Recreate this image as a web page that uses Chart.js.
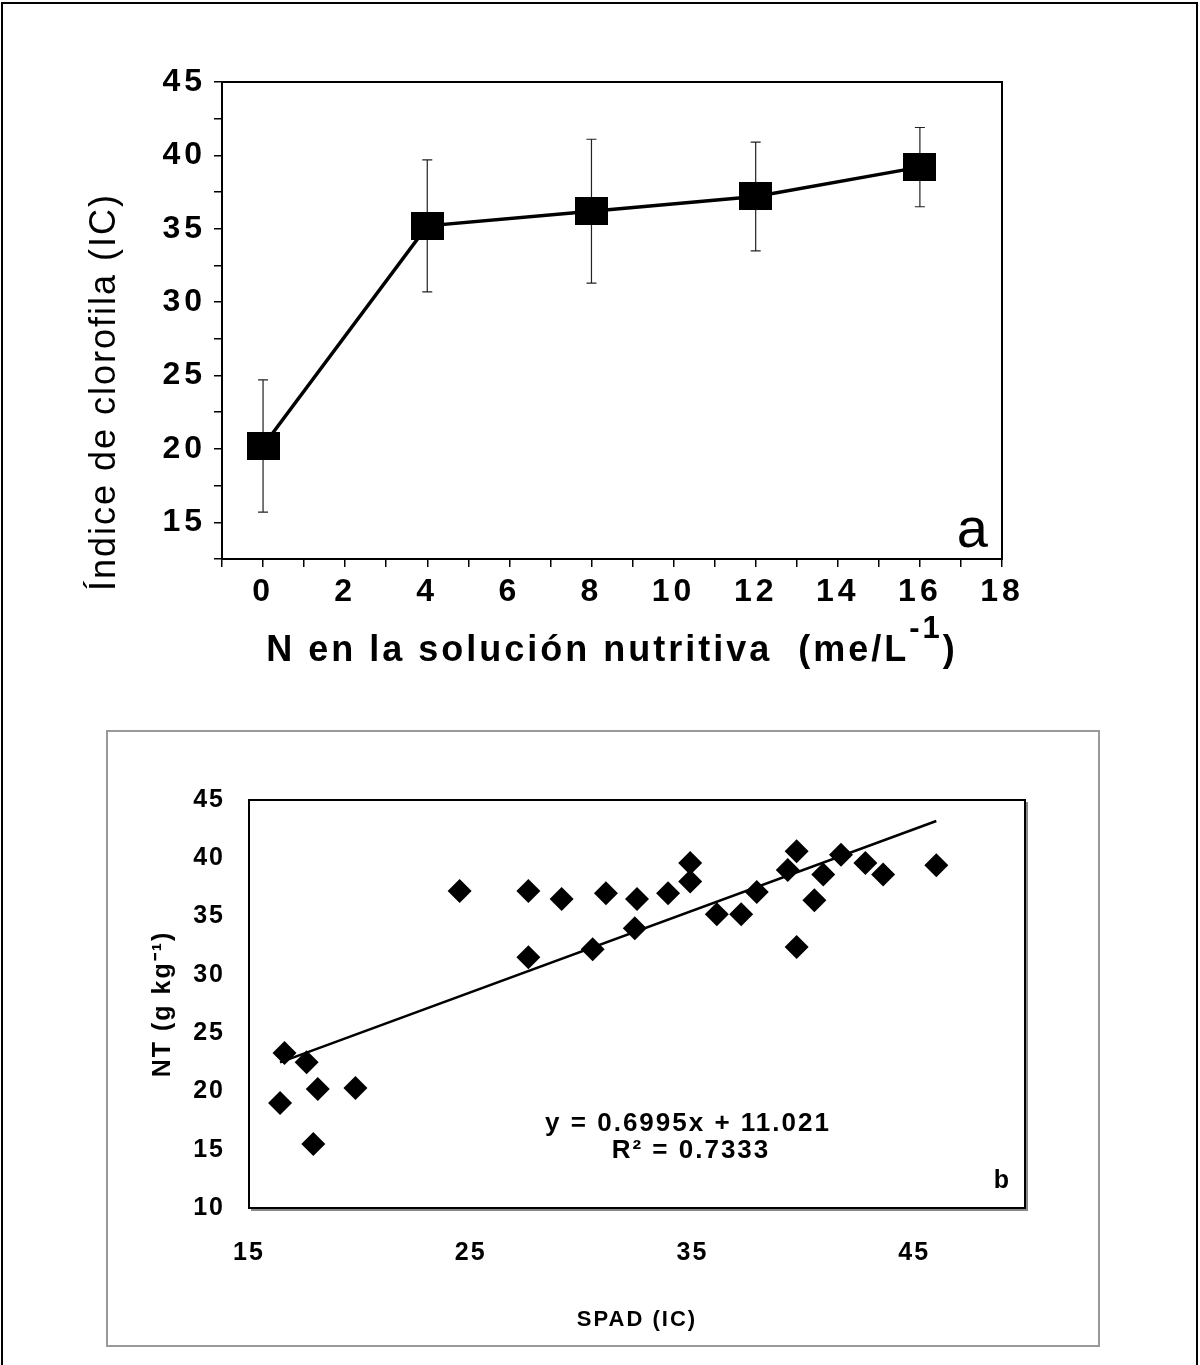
<!DOCTYPE html>
<html>
<head>
<meta charset="utf-8">
<script src="https://cdn.jsdelivr.net/npm/chart.js@4.4.1/dist/chart.umd.min.js"></script>
<style>
  body { margin: 0; background: #fff; width: 1200px; height: 1365px; position: relative; overflow: hidden; }
  #frame { position: absolute; left: 1px; top: 2px; width: 1197px; height: 1400px; border: 2px solid #000; border-bottom: none; box-sizing: border-box; }
  #boxB { position: absolute; left: 106px; top: 730px; width: 994px; height: 617px; border: 2px solid #999; box-sizing: border-box; }
  #chartA { position: absolute; left: 0; top: 0; }
  #chartB { position: absolute; left: 0; top: 700px; }
</style>
</head>
<body>
<div id="frame"></div>
<div id="boxB"></div>
<canvas id="chartA" width="1200" height="700"></canvas>
<canvas id="chartB" width="1200" height="665"></canvas>
<script>
// Panel a: chlorophyll index vs N in nutrient solution
const nLevels = [0, 4, 8, 12, 16];
const icMeans = [20.2, 35.2, 36.2, 37.2, 39.2];
const icErrors = [4.5, 4.5, 4.9, 3.7, 2.7];
const xTicksA = [0, 2, 4, 6, 8, 10, 12, 14, 16, 18];
const yTicksA = [15, 20, 25, 30, 35, 40, 45];

// Panel b: SPAD vs total N
const spadValues = [16.4, 16.6, 17.6, 17.9, 18.1, 19.8, 24.5, 27.6, 27.6, 29.1, 30.5, 31.1, 32.4, 32.5, 33.9,
    34.9, 34.9, 36.1, 37.2, 37.9, 39.3, 39.7, 39.7, 40.5, 40.9, 41.7, 42.8, 43.6, 46.0];
const ntValues = [19.0, 23.3, 22.5, 15.5, 20.2, 20.3, 37.2, 37.2, 31.5, 36.5, 32.2, 37.0, 34.0, 36.5, 37.0,
    39.6, 38.0, 35.2, 35.2, 37.1, 39.0, 40.6, 32.4, 36.4, 38.6, 40.3, 39.6, 38.6, 39.4];
const trendSlope = 0.6995;
const trendIntercept = 11.021;
const xTicksB = [15, 25, 35, 45];

const FONT = "'Liberation Sans', Arial, sans-serif";
Chart.defaults.font.family = FONT;
Chart.defaults.color = '#000';

// square marker, a bit wider than tall like in the original
const squareMarker = document.createElement('canvas');
squareMarker.width = 33;
squareMarker.height = 28;
squareMarker.getContext('2d').fillRect(0, 0, 33, 28);

// the original lettering is wide, so space the letters a little
const spacing = (px) => ({
    id: 'spacing',
    beforeDraw: (chart) => { chart.ctx.letterSpacing = px + 'px'; }
});

// box around the plot area
const framePlugin = (shadow) => ({
    id: 'frame',
    afterDraw: (chart) => {
        const ctx = chart.ctx;
        const a = chart.chartArea;
        ctx.save();
        if (shadow) {
            ctx.strokeStyle = '#888';
            ctx.lineWidth = 2;
            ctx.beginPath();
            ctx.moveTo(a.left + 2, a.bottom + 2);
            ctx.lineTo(a.right + 2, a.bottom + 2);
            ctx.lineTo(a.right + 2, a.top + 2);
            ctx.stroke();
        }
        ctx.strokeStyle = '#000';
        ctx.lineWidth = 2;
        ctx.strokeRect(a.left, a.top, a.right - a.left, a.bottom - a.top);
        ctx.restore();
    }
});

const errorBars = {
    id: 'errorBars',
    beforeDatasetsDraw: (chart) => {
        const ctx = chart.ctx;
        const x = chart.scales.x;
        const y = chart.scales.y;
        ctx.save();
        ctx.strokeStyle = '#222';
        ctx.lineWidth = 1.2;
        nLevels.forEach((n, i) => {
            const px = x.getPixelForValue(n);
            const top = y.getPixelForValue(icMeans[i] + icErrors[i]);
            const bot = y.getPixelForValue(icMeans[i] - icErrors[i]);
            ctx.beginPath();
            ctx.moveTo(px, top);
            ctx.lineTo(px, bot);
            ctx.moveTo(px - 5, top);
            ctx.lineTo(px + 5, top);
            ctx.moveTo(px - 5, bot);
            ctx.lineTo(px + 5, bot);
            ctx.stroke();
        });
        ctx.restore();
    }
};

const panelLabel = (text, font, xPos, yPos, align, ls) => ({
    id: 'panelLabel',
    afterDraw: (chart) => {
        const ctx = chart.ctx;
        ctx.save();
        ctx.font = font;
        ctx.letterSpacing = (ls || 0) + 'px';
        ctx.fillStyle = '#000';
        ctx.textAlign = align;
        ctx.textBaseline = 'alphabetic';
        ctx.fillText(text, chart.chartArea[xPos[0]] + xPos[1], chart.chartArea[yPos[0]] + yPos[1]);
        ctx.restore();
    }
});

// axis titles of panel a (the x title has a raised "-1")
const titlesA = {
    id: 'titlesA',
    afterDraw: (chart) => {
        const ctx = chart.ctx;
        const a = chart.chartArea;
        ctx.save();
        ctx.fillStyle = '#000';
        ctx.textBaseline = 'alphabetic';
        ctx.textAlign = 'left';
        ctx.letterSpacing = '3px';
        const main = 'N en la solución nutritiva  (me/L';
        const big = "bold 36px " + FONT;
        const sup = "bold 31px " + FONT;
        ctx.font = big;
        const w1 = ctx.measureText(main).width;
        const w3 = ctx.measureText(')').width;
        ctx.font = sup;
        const w2 = ctx.measureText('-1').width;
        let x0 = (a.left + a.right) / 2 - (w1 + w2 + w3) / 2;
        const base = a.bottom + 102;
        ctx.font = big;
        ctx.fillText(main, x0, base);
        ctx.font = sup;
        ctx.fillText('-1', x0 + w1, base - 23);
        ctx.font = big;
        ctx.fillText(')', x0 + w1 + w2, base);

        ctx.translate(105, 392);
        ctx.rotate(-Math.PI / 2);
        ctx.font = "36px " + FONT;
        ctx.letterSpacing = '2px';
        ctx.textAlign = 'center';
        ctx.textBaseline = 'middle';
        ctx.fillText('Índice de clorofila (IC)', 0, 0);
        ctx.restore();
    }
};

new Chart(document.querySelector('#chartA'), {
    type: 'scatter',
    data: {
        datasets: [{
            data: nLevels.map((n, i) => ({ x: n, y: icMeans[i] })),
            showLine: true,
            borderColor: '#000',
            borderWidth: 3.5,
            pointStyle: squareMarker,
            pointRadius: 16
        }]
    },
    options: {
        responsive: false,
        animation: false,
        events: [],
        layout: { padding: { left: 0, top: 82, right: 198, bottom: 0 } },
        plugins: { legend: { display: false }, tooltip: { enabled: false } },
        scales: {
            x: {
                type: 'linear',
                min: -1,
                max: 18,
                afterFit: (scale) => { scale.height = 141; },
                afterBuildTicks: (scale) => {
                    const t = [];
                    for (let v = scale.min; v <= scale.max; v += 1) t.push({ value: v });
                    scale.ticks = t;
                },
                ticks: {
                    autoSkip: false,
                    maxRotation: 0,
                    padding: 6,
                    font: { size: 32, weight: 'bold' },
                    callback: (v) => xTicksA.includes(v) ? v : ''
                },
                grid: { drawOnChartArea: false, tickLength: 8, color: '#000', lineWidth: 1.5 },
                border: { color: '#000', width: 2 }
            },
            y: {
                min: 12.5,
                max: 45,
                afterFit: (scale) => { scale.width = 222; },
                afterBuildTicks: (scale) => {
                    const t = [];
                    for (let v = scale.min; v <= scale.max + 0.01; v += 2.5) t.push({ value: v });
                    scale.ticks = t;
                },
                ticks: {
                    autoSkip: false,
                    padding: 8,
                    font: { size: 32, weight: 'bold' },
                    callback: (v) => yTicksA.includes(v) ? v : ''
                },
                grid: { drawOnChartArea: false, tickLength: 8, color: '#000', lineWidth: 1.5 },
                border: { color: '#000', width: 2 }
            }
        }
    },
    plugins: [spacing(4), errorBars, framePlugin(false), titlesA,
        panelLabel('a', "56px " + FONT, ['right', -14], ['bottom', -12], 'right')]
});

const xMin = Math.min(...spadValues);
const xMax = Math.max(...spadValues);

new Chart(document.querySelector('#chartB'), {
    type: 'scatter',
    data: {
        datasets: [{
            data: spadValues.map((s, i) => ({ x: s, y: ntValues[i] })),
            backgroundColor: '#000',
            borderWidth: 0,
            pointStyle: 'rectRot',
            pointRadius: 12
        }, {
            data: [xMin, xMax].map((s) => ({ x: s, y: trendSlope * s + trendIntercept })),
            showLine: true,
            borderColor: '#000',
            borderWidth: 2.5,
            pointRadius: 0
        }]
    },
    options: {
        responsive: false,
        animation: false,
        events: [],
        layout: { padding: { left: 0, top: 100, right: 175, bottom: 0 } },
        plugins: { legend: { display: false }, tooltip: { enabled: false } },
        scales: {
            x: {
                type: 'linear',
                min: 15,
                max: 50,
                afterFit: (scale) => { scale.height = 157; },
                afterBuildTicks: (scale) => { scale.ticks = xTicksB.map((v) => ({ value: v })); },
                ticks: {
                    autoSkip: false,
                    maxRotation: 0,
                    padding: 30,
                    font: { size: 25, weight: 'bold' }
                },
                grid: { display: false, drawTicks: false },
                border: { color: '#000', width: 2 },
                title: {
                    display: true,
                    text: 'SPAD (IC)',
                    font: { size: 22, weight: 'bold' },
                    padding: { top: 0, bottom: 32 }
                }
            },
            y: {
                min: 10,
                max: 45,
                afterFit: (scale) => { scale.width = 249; },
                ticks: {
                    stepSize: 5,
                    padding: 24,
                    font: { size: 25, weight: 'bold' }
                },
                grid: { display: false, drawTicks: false },
                border: { color: '#000', width: 2 },
                title: {
                    display: true,
                    text: 'NT (g kg⁻¹)',
                    font: { size: 25, weight: 'bold' },
                    padding: { top: 148, bottom: 0 }
                }
            }
        }
    },
    plugins: [
        spacing(2),
        framePlugin(true),
        panelLabel('y = 0.6995x + 11.021', "bold 26px " + FONT, ['left', 439], ['top', 331], 'center', 2),
        panelLabel('R² = 0.7333', "bold 26px " + FONT, ['left', 442], ['top', 358], 'center', 2),
        panelLabel('b', "bold 25px " + FONT, ['right', -16], ['bottom', -20], 'right')
    ]
});
</script>
</body>
</html>
